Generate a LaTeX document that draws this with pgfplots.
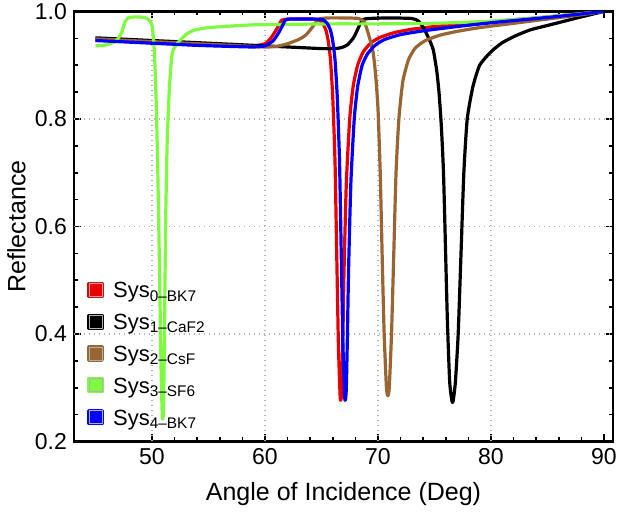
\documentclass[border=0pt]{standalone}
\usepackage{fontspec}
\setmainfont{Liberation Sans}
\usepackage{pgfplots}
\pgfplotsset{compat=1.18}
\definecolor{cRed}{RGB}{235,0,0}
\definecolor{cBrown}{RGB}{153,102,51}
\definecolor{cGreen}{RGB}{128,250,64}
\definecolor{cBlue}{RGB}{0,0,255}
\begin{document}
\begin{tikzpicture}
\begin{axis}[
  scale only axis,
  width=269.5pt, height=215pt,
  xmin=43.1, xmax=90.8, ymin=0.2, ymax=1.0,
  xtick={50,60,70,80,90},
  ytick={0.2,0.4,0.6,0.8,1.0},
  minor x tick num=4,
  minor y tick num=3,
  extra x ticks={50,60,70,80},
  extra x tick labels={},
  extra y ticks={0.4,0.6,0.8},
  extra y tick labels={},
  extra tick style={grid=major, major tick length=0pt},
  major grid style={gray!60, line width=0.7pt, dash pattern=on 0.7pt off 1.8pt},
  tick pos=both, tick align=inside,
  major tick length=3.5pt, minor tick length=2pt,
  tick style={black, line width=0.8pt},
  axis line style={line width=1.3pt},
  /pgf/number format/assume math mode=true,
  yticklabel style={/pgf/number format/.cd, fixed, fixed zerofill, precision=1},
  tick label style={font=\fontsize{11.5}{13}\selectfont, black},
  xlabel={Angle of Incidence (Deg)},
  ylabel={Reflectance},
  label style={font=\fontsize{12.5}{14}\selectfont},
  xlabel style={at={(axis description cs:0.5,-0.1384)}, anchor=base},
  ylabel style={at={(axis description cs:-0.1066,0.5)}, anchor=center, rotate=0},
  legend cell align=left,
  legend style={at={(axis description cs:0.025,0.3893)}, anchor=north west,
    draw=none, fill=none, inner sep=0pt, outer sep=0pt, row sep=0pt, column sep=4.75pt,
    font=\fontsize{11}{13}\selectfont,
    nodes={inner sep=0pt, text height=11.9pt, text depth=4pt}},
  legend image code/.code={
    \fill[#1] (0pt,-3.25pt) rectangle (6.5pt,3.25pt);
    \draw[gray!60, line width=0.4pt] (0pt,-3.25pt) rectangle (6.5pt,3.25pt);},
  every axis plot/.append style={line width=1.6pt, line join=round, smooth, tension=0.35},
]
% Sys0-BK7 (red)
\addplot[color=cRed] coordinates {
(45,0.947) (48,0.944) (51,0.941) (54,0.938) (57,0.936) (59,0.936) (60,0.940)
(60.5,0.950) (61.0,0.966) (61.3,0.978) (61.5,0.984) (62,0.986) (63,0.986) (64,0.986)
(64.7,0.985) (65.1,0.978) (65.4,0.965) (65.6,0.945) (65.8,0.91) (66.0,0.84)
(66.2,0.72) (66.35,0.55) (66.5,0.38) (66.65,0.285) (66.72,0.277) (66.8,0.30) (66.9,0.40)
(67.0,0.52) (67.2,0.68) (67.5,0.80) (67.8,0.86) (68.2,0.90) (68.7,0.925)
(69.4,0.942) (70.2,0.952) (71.5,0.961) (73,0.967) (75,0.972) (78,0.978)
(81,0.983) (84,0.988) (87,0.994) (90,1.0)};
\addlegendentry{Sys\textsubscript{0–BK7}}
% Sys1-CaF2 (black)
\addplot[color=black] coordinates {
(45,0.951) (48,0.948) (51,0.945) (54,0.942) (57,0.939) (60,0.936) (63,0.933)
(65,0.931) (66.2,0.931) (66.8,0.933) (67.3,0.938) (67.8,0.950) (68.1,0.962)
(68.4,0.976) (68.7,0.985) (69.2,0.987) (71,0.988) (73,0.987) (73.6,0.982)
(74.1,0.967) (74.6,0.945) (74.9,0.928) (75.2,0.89) (75.4,0.85) (75.6,0.79)
(75.8,0.70) (76.0,0.54) (76.15,0.42) (76.35,0.31) (76.55,0.275) (76.65,0.275) (76.85,0.31)
(77.1,0.40) (77.35,0.55) (77.6,0.70) (77.9,0.80) (78.4,0.86) (79.0,0.90)
(80.0,0.925) (81.0,0.942) (82.2,0.955) (83.5,0.966) (85,0.974) (86.5,0.982)
(88,0.990) (90,1.0)};
\addlegendentry{Sys\textsubscript{1–CaF2}}
% Sys2-CsF (brown)
\addplot[color=cBrown] coordinates {
(45,0.949) (48,0.946) (51,0.943) (54,0.940) (57,0.937) (60,0.934) (61,0.935)
(62,0.940) (63,0.948) (63.6,0.956) (64.1,0.968) (64.5,0.980) (64.8,0.986)
(65.5,0.988) (67,0.988) (68.3,0.987) (68.8,0.980) (69.1,0.962) (69.4,0.94)
(69.6,0.92) (69.8,0.88) (70.0,0.82) (70.2,0.70) (70.4,0.52) (70.55,0.40)
(70.75,0.30) (70.88,0.285) (71.0,0.30) (71.2,0.40) (71.4,0.55) (71.6,0.70)
(71.85,0.80) (72.2,0.87) (72.7,0.91) (73.3,0.932) (74.2,0.946) (75.5,0.956)
(77,0.963) (79,0.970) (82,0.978) (85,0.986) (88,0.994) (90,1.0)};
\addlegendentry{Sys\textsubscript{2–CsF}}
% Sys3-SF6 (green)
\addplot[color=cGreen] coordinates {
(45,0.936) (46,0.938) (46.8,0.945) (47.3,0.960) (47.6,0.980) (47.9,0.988)
(48.5,0.990) (49.3,0.989) (49.7,0.985) (50.0,0.975) (50.2,0.93) (50.35,0.85)
(50.5,0.72) (50.62,0.58) (50.72,0.45) (50.82,0.32) (50.92,0.245) (51.0,0.25)
(51.07,0.33) (51.13,0.45) (51.22,0.62) (51.35,0.76) (51.55,0.86) (51.8,0.923)
(52.3,0.942) (53,0.957) (53.7,0.965) (55,0.970) (58.7,0.975) (62,0.976)
(66,0.977) (70,0.977) (75,0.978) (80,0.982) (84,0.988) (87,0.994) (90,1.0)};
\addlegendentry{Sys\textsubscript{3–SF6}}
% Sys4-BK7 (blue)
\addplot[color=cBlue] coordinates {
(45,0.946) (48,0.943) (51,0.940) (54,0.937) (57,0.935) (59,0.934) (60,0.936)
(60.7,0.945) (61.2,0.960) (61.6,0.976) (61.8,0.984) (62.3,0.986) (64,0.986)
(65.1,0.985) (65.5,0.978) (65.8,0.965) (66.0,0.945) (66.2,0.91) (66.4,0.84)
(66.6,0.72) (66.75,0.55) (66.9,0.38) (67.05,0.285) (67.12,0.277) (67.2,0.30) (67.3,0.40)
(67.4,0.52) (67.6,0.68) (67.9,0.80) (68.2,0.86) (68.6,0.90) (69.1,0.922)
(69.8,0.938) (70.6,0.948) (72,0.957) (74,0.964) (77,0.972) (80,0.979)
(83,0.985) (86,0.991) (90,1.0)};
\addlegendentry{Sys\textsubscript{4–BK7}}
\end{axis}
\pgfresetboundingbox
\path ([shift={(-37pt,-36.25pt)}]current axis.south west) rectangle ([shift={(2pt,5.75pt)}]current axis.north east);
\end{tikzpicture}
\end{document}
